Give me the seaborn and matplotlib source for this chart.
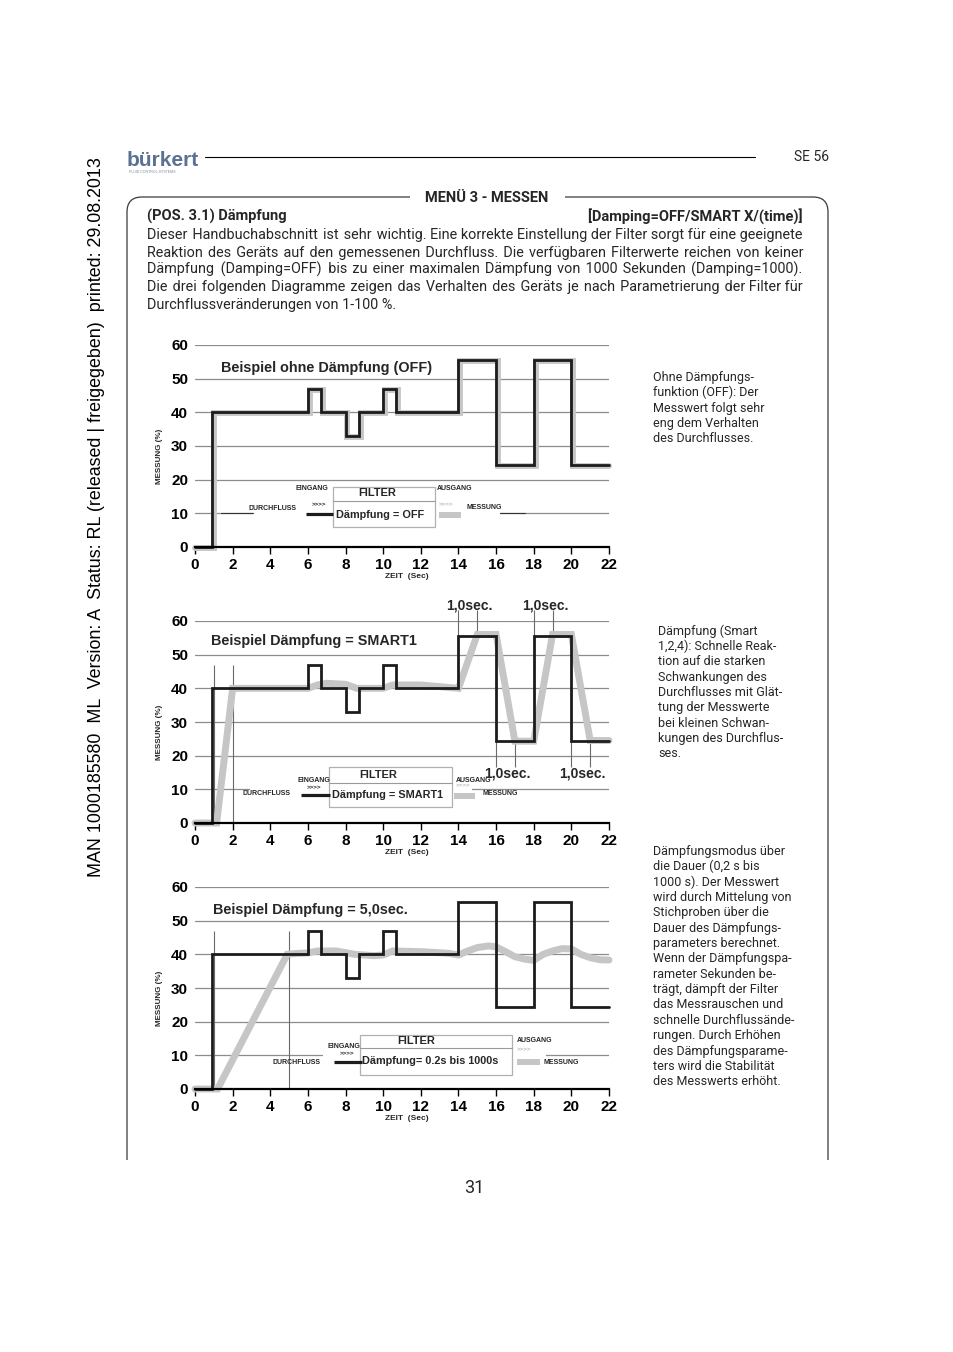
import matplotlib
matplotlib.use("Agg")
import matplotlib.pyplot as plt
import seaborn as sns
import pandas as pd
from matplotlib.path import Path
from matplotlib.patches import PathPatch, Rectangle

sns.set_theme(style="white")
plt.rcParams["font.family"] = ["Liberation Sans", "DejaVu Sans"]
plt.rcParams["axes.unicode_minus"] = False

# ---------------- data ----------------
time_ticks = [0, 2, 4, 6, 8, 10, 12, 14, 16, 18, 20, 22]
pct_ticks = [0, 10, 20, 30, 40, 50, 60]

# input flow (black step line, identical in all three charts)
flow_t = [0.0, 0.9, 6.0, 6.7, 8.0, 8.7, 10.0, 10.7, 14.0, 16.0, 18.0, 20.0, 22.0]
flow_v = [0.0, 40.0, 47.0, 40.0, 33.0, 40.0, 47.0, 40.0, 55.5, 24.5, 55.5, 24.5, 24.5]

# output, damping OFF (grey shadow step line)
off_t = [0.0, 1.0, 6.1, 6.8, 8.1, 8.8, 10.1, 10.8, 14.1, 16.1, 18.1, 20.1, 22.0]
off_v = [-0.3, 39.7, 46.7, 39.7, 32.7, 39.7, 46.7, 39.7, 55.2, 24.2, 55.2, 24.2, 24.2]

# output, damping SMART1
smart_t = [0.0, 1.15, 2.0, 6.0, 6.5, 7.0, 8.0, 8.6, 10.0, 10.5, 12.0, 14.0,
           15.0, 16.0, 17.0, 18.0, 19.0, 20.0, 21.0, 22.0]
smart_v = [0.0, 0.0, 40.0, 40.0, 41.0, 41.5, 41.2, 40.0, 40.0, 41.0, 41.0, 40.0,
           56.0, 56.0, 24.3, 24.3, 56.0, 56.0, 24.5, 24.5]

# output, damping 5,0 sec
damp_t = [0.0, 1.2, 4.9, 5.5, 6.0, 6.5, 7.5, 8.0, 8.5, 9.5, 10.0, 10.5, 12.0, 13.5,
          14.0, 14.5, 15.0, 15.6, 16.0, 16.5, 17.0, 17.5, 18.0, 18.5, 19.0, 19.5,
          20.0, 20.5, 21.0, 21.5, 22.0]
damp_v = [0.0, 0.0, 40.0, 40.3, 40.4, 41.0, 41.0, 40.5, 40.0, 39.6, 39.8, 41.0, 40.8, 40.3,
          39.8, 41.0, 42.0, 42.5, 42.2, 40.8, 39.3, 38.6, 38.2, 40.0, 41.0, 41.7,
          41.6, 40.0, 39.0, 38.4, 38.3]

smart_low_marks = [1, 2]
smart_up_marks = [14, 15, 18, 19]
smart_down_marks = [16, 17, 20, 21]
smart_up_labels = [14.6, 18.6]
smart_down_labels = [16.6, 20.6]
damp_marks = [1, 5]

titles = ["Beispiel ohne Dämpfung (OFF)", "Beispiel Dämpfung = SMART1",
          "Beispiel Dämpfung = 5,0sec."]
filter_texts = ["Dämpfung = OFF", "Dämpfung = SMART1", "Dämpfung= 0.2s bis 1000s"]

para = [
    "Dieser Handbuchabschnitt ist sehr wichtig. Eine korrekte Einstellung der Filter sorgt für eine geeignete",
    "Reaktion des Geräts auf den gemessenen Durchfluss. Die verfügbaren Filterwerte reichen von keiner",
    "Dämpfung (Damping=OFF) bis zu einer maximalen Dämpfung von 1000 Sekunden (Damping=1000).",
    "Die drei folgenden Diagramme zeigen das Verhalten des Geräts je nach Parametrierung der Filter für",
    "Durchflussveränderungen von 1-100 %.",
]
note1 = ["Ohne Dämpfungs-", "funktion (OFF): Der", "Messwert folgt sehr",
         "eng dem Verhalten", "des Durchflusses."]
note2 = ["Dämpfung (Smart", "1,2,4): Schnelle Reak-", "tion auf die starken",
         "Schwankungen des", "Durchflusses mit Glät-", "tung der Messwerte",
         "bei kleinen Schwan-", "kungen des Durchflus-", "ses."]
note3 = ["Dämpfungsmodus über", "die Dauer (0,2 s bis", "1000 s). Der Messwert",
         "wird durch Mittelung von", "Stichproben über die", "Dauer des Dämpfungs-",
         "parameters berechnet.", "Wenn der Dämpfungspa-", "rameter Sekunden be-",
         "trägt, dämpft der Filter", "das Messrauschen und", "schnelle Durchflussände-",
         "rungen. Durch Erhöhen", "des Dämpfungsparame-", "ters wird die Stabilität",
         "des Messwerts erhöht."]
side_text = "MAN 1000185580  ML  Version: A  Status: RL (released | freigegeben)  printed: 29.08.2013"

# ---------------- figure / page layer ----------------
W, H = 954, 1352
fig = plt.figure(figsize=(W / 100, H / 100), dpi=100)
fig.patch.set_facecolor("white")
page = fig.add_axes([0, 0, 1, 1])
page.set_xlim(0, W)
page.set_ylim(H, 0)
page.axis("off")
renderer = fig.canvas.get_renderer()

PF = ["Roboto", "DejaVu Sans"]


def twidth(s, **kw):
    t = page.text(0, 0, s, **kw)
    w = t.get_window_extent(renderer).width
    t.remove()
    return w


# logo
page.text(127, 160, "bürkert", fontsize=15, fontweight="bold", color="#5a7194",
          ha="left", va="center", family=["Liberation Sans"])
page.text(129, 172, "FLUID CONTROL SYSTEMS", fontsize=2.6, color="#7d8aa0",
          ha="left", va="center")
page.plot([205, 755], [157, 157], color="black", lw=0.8)
page.text(829, 157, "SE 56", fontsize=10, ha="right", va="center", family=PF)

# frame
verts = [(127, 1160), (127, 212), (127, 197), (142, 197), (410, 197)]
codes = [Path.MOVETO, Path.LINETO, Path.CURVE3, Path.CURVE3, Path.LINETO]
page.add_patch(PathPatch(Path(verts, codes), fill=False, ec="#3a3a3a", lw=0.9))
verts = [(565, 197), (813, 197), (828, 197), (828, 212), (828, 1160)]
page.add_patch(PathPatch(Path(verts, codes), fill=False, ec="#3a3a3a", lw=0.9))
page.text(487, 198, "MENÜ 3 - MESSEN", fontsize=10.5, fontweight="bold",
          ha="center", va="center", family=PF)
page.text(147, 216.5, "(POS. 3.1) Dämpfung", fontsize=10.5, fontweight="bold",
          ha="left", va="center", family=PF)
page.text(803, 216.5, "[Damping=OFF/SMART X/(time)]", fontsize=10.5, fontweight="bold",
          ha="right", va="center", family=PF)

# justified paragraph: one text per line, padded with hair spaces
PX0, PX1 = 147, 803
fs = 10
maxw = max(twidth(l, fontsize=fs, family=PF) for l in para[:-1])
fs = fs * (PX1 - PX0) / maxw * 0.995
HS = "\u200a"
hs_w = twidth("a" + HS * 10 + "a", fontsize=fs, family=PF) - twidth("aa", fontsize=fs, family=PF)
hs_w = max(hs_w / 10, 0.3)
para_base = [239, 256.5, 274, 291.5, 309]
for i, (line, y) in enumerate(zip(para, para_base)):
    if i < len(para) - 1:
        words = line.split(" ")
        deficit = (PX1 - PX0) - twidth(line, fontsize=fs, family=PF)
        n = max(int(round(deficit / hs_w)), 0)
        gaps = len(words) - 1
        out = words[0]
        for g in range(gaps):
            k = n // gaps + (1 if g < n % gaps else 0)
            out += " " + HS * k + words[g + 1]
        line = out
    page.text(PX0, y, line, fontsize=fs, ha="left", va="baseline", family=PF)

# side notes
for lines, x0, y0 in [(note1, 653, 381), (note2, 658, 634.5), (note3, 653, 855)]:
    for k, l in enumerate(lines):
        page.text(x0, y0 + k * 15.35, l, fontsize=9, ha="left", va="baseline", family=PF)

# vertical status text
sfs = 12
sw = twidth(side_text, fontsize=sfs)
sfs = sfs * 721 / sw
page.text(97, 517.5, side_text, fontsize=sfs, rotation=90, ha="center", va="center",
          color="black")

page.text(474, 1188, "31", fontsize=13, ha="center", va="center", family=PF)

# ---------------- charts ----------------
X0, X22 = 195, 609
chart_px = [(547, 345), (823, 621), (1089, 887)]
title_pos = [(1.38, 53.1), (0.85, 54.1), (0.96, 53.2)]


def make_chart(y0, y60):
    ax = fig.add_axes([X0 / W, 1 - y0 / H, (X22 - X0) / W, (y0 - y60) / H])
    ax.patch.set_visible(False)
    ax.set_xlim(0, 22)
    ax.set_ylim(0, 60)
    for s in ["left", "right", "top"]:
        ax.spines[s].set_visible(False)
    ax.spines["bottom"].set_color("black")
    ax.spines["bottom"].set_linewidth(1.6)
    ax.spines["bottom"].set_zorder(6)
    ax.text(0.512, -0.148, "ZEIT  (Sec)", transform=ax.transAxes, fontsize=6,
            fontweight="bold", ha="center", va="center")
    ax.text(-0.085, 0.45, "MESSUNG (%)", transform=ax.transAxes, fontsize=5.8,
            fontweight="bold", ha="center", va="center", rotation=90)
    return ax


def finish_axes(ax):
    ax.set_xlim(0, 22)
    ax.set_ylim(0, 60)
    ax.set_xticks(time_ticks)
    ax.set_yticks(pct_ticks)
    ax.set_xticklabels([str(t) for t in time_ticks], fontsize=11, fontweight="bold",
                       color="black")
    ax.set_yticklabels([str(p) for p in pct_ticks], fontsize=11, fontweight="bold",
                       color="black")
    ax.tick_params(axis="x", bottom=True, direction="out", length=5, width=1.0,
                   color="black", pad=3)
    ax.tick_params(axis="y", left=False, length=0, pad=5)
    ax.yaxis.grid(True, color="#8c8c8c", lw=0.9)
    ax.xaxis.grid(False)
    ax.set_axisbelow(True)
    ax.set_xlabel("")
    ax.set_ylabel("")


def draw_input(ax):
    df = pd.DataFrame({"t": flow_t, "v": flow_v})
    sns.lineplot(data=df, x="t", y="v", ax=ax, color="#1c1c1c", linewidth=2.0,
                 sort=False, estimator=None, drawstyle="steps-post", zorder=4,
                 solid_joinstyle="miter", clip_on=False, legend=False)


def draw_output(ax, t, v, steps=False, lw=5.0):
    df = pd.DataFrame({"t": t, "v": v})
    kw = dict(drawstyle="steps-post") if steps else {}
    sns.lineplot(data=df, x="t", y="v", ax=ax, color="#c6c6c6", linewidth=lw,
                 sort=False, estimator=None, zorder=3, solid_joinstyle="miter",
                 clip_on=False, legend=False, **kw)


def legend(ax, spec, damp_text):
    T = page.transData
    g0, g1, gy = spec["gap"]
    ax.add_patch(Rectangle((g0, gy - 2.5), g1 - g0, 5, transform=T, fc="white",
                           ec="none", zorder=3.5, clip_on=False))
    for a, b in spec.get("dark", []):
        ax.plot([a, b], [gy, gy], transform=T, color="#333333", lw=0.8, zorder=3.6,
                clip_on=False)
    x0, y0, x1, y1 = spec["box"]
    ax.add_patch(Rectangle((x0, y0), x1 - x0, y1 - y0, transform=T, fc="white",
                           ec="#b0b0b0", lw=0.9, zorder=5, clip_on=False))
    ax.plot([x0, x1], [spec["div"], spec["div"]], transform=T, color="#9a9a9a",
            lw=0.8, zorder=5.1, clip_on=False)
    ax.text(*spec["filter"], "FILTER", transform=T, fontsize=8, fontweight="bold",
            ha="center", va="center", zorder=6, clip_on=False)
    ax.text(*spec["damp"], damp_text, transform=T, fontsize=7.8, fontweight="bold",
            ha="left", va="center", zorder=6, clip_on=False)
    ex, ey = spec["ein"]
    ax.text(ex, ey, "EINGANG", transform=T, fontsize=5, fontweight="bold",
            ha="right", va="center", zorder=6, clip_on=False)
    ax.text(*spec["gin"], ">>>>", transform=T, fontsize=4.5, fontweight="bold",
            ha="left", va="center", zorder=6, clip_on=False)
    ax.text(*spec["durch"], "DURCHFLUSS", transform=T, fontsize=5, fontweight="bold",
            ha="left", va="center", zorder=6, clip_on=False)
    b0, b1, by = spec["blk"]
    ax.plot([b0, b1], [by, by], transform=T, color="#1c1c1c", lw=2.3, zorder=6,
            clip_on=False, solid_capstyle="butt")
    ax.text(*spec["aus"], "AUSGANG", transform=T, fontsize=5, fontweight="bold",
            ha="left", va="center", zorder=6, clip_on=False)
    ax.text(*spec["gout"], ">>>>", transform=T, fontsize=4.5, fontweight="bold",
            color="#bdbdbd", ha="left", va="center", zorder=6, clip_on=False)
    r0, r1, ry = spec["gbar"]
    ax.add_patch(Rectangle((r0, ry - 3), r1 - r0, 6, transform=T, fc="#c6c6c6",
                           ec="none", zorder=6, clip_on=False))
    ax.text(*spec["mess"], "MESSUNG", transform=T, fontsize=5, fontweight="bold",
            ha="left", va="center", zorder=6, clip_on=False)


legend_specs = [
    dict(box=(332.7, 486.7, 435, 527.3), div=500.7, filter=(376.7, 493.5),
         damp=(336, 514.5), ein=(328.3, 489), gin=(311.5, 505), durch=(249, 508),
         blk=(306, 333, 513.7), aus=(437, 489), gout=(439, 505),
         gbar=(439, 461, 515), mess=(466.7, 507.5), gap=(253, 500, 513.3),
         dark=[(221, 253), (500, 525)]),
    dict(box=(329, 766.7, 451.7, 806.7), div=783, filter=(378, 775),
         damp=(331.7, 795.5), ein=(330, 780), gin=(307, 788.3), durch=(243, 793.5),
         blk=(301, 330, 795), aus=(456, 780.7), gout=(456, 786),
         gbar=(454, 475, 796), mess=(483, 793.5), gap=(250, 472, 789.3)),
    dict(box=(360, 1035, 511.7, 1075), div=1048.3, filter=(415.8, 1041),
         damp=(362, 1061), ein=(360, 1046.7), gin=(340, 1054.3), durch=(273, 1062),
         blk=(334, 361.7, 1062), aus=(516.7, 1040), gout=(517, 1050),
         gbar=(516.7, 540, 1061.5), mess=(543.3, 1062), gap=(323, 546, 1055.3)),
]

axes = [make_chart(*p) for p in chart_px]

# chart 1
ax = axes[0]
draw_output(ax, off_t, off_v, steps=True, lw=4.2)
draw_input(ax)

# chart 2
ax = axes[1]
ax.vlines(smart_low_marks, 0, 47, color="#6a6a6a", lw=0.8, zorder=2)
ax.vlines(smart_up_marks, 55.5, 63.2, color="#6a6a6a", lw=0.8, zorder=2, clip_on=False)
ax.vlines(smart_down_marks, 16.5, 24.5, color="#6a6a6a", lw=0.8, zorder=2)
draw_output(ax, smart_t, smart_v, lw=5.0)
draw_input(ax)
for xl in smart_up_labels:
    ax.text(xl, 64.7, "1,0sec.", fontsize=10, fontweight="bold", ha="center",
            va="center", clip_on=False)
for xl in smart_down_labels:
    ax.text(xl, 14.7, "1,0sec.", fontsize=10, fontweight="bold", ha="center",
            va="center", zorder=7)

# chart 3
ax = axes[2]
ax.vlines(damp_marks, 0, 47, color="#6a6a6a", lw=0.8, zorder=2)
draw_output(ax, damp_t, damp_v, lw=5.0)
draw_input(ax)

for ax, (tx, ty), title, spec, dtext in zip(axes, title_pos, titles, legend_specs,
                                            filter_texts):
    finish_axes(ax)
    ax.text(tx, ty, title, fontsize=10.4, fontweight="bold", ha="left", va="center")
    legend(ax, spec, dtext)

fig.savefig("out.png", dpi=100, facecolor="white")
